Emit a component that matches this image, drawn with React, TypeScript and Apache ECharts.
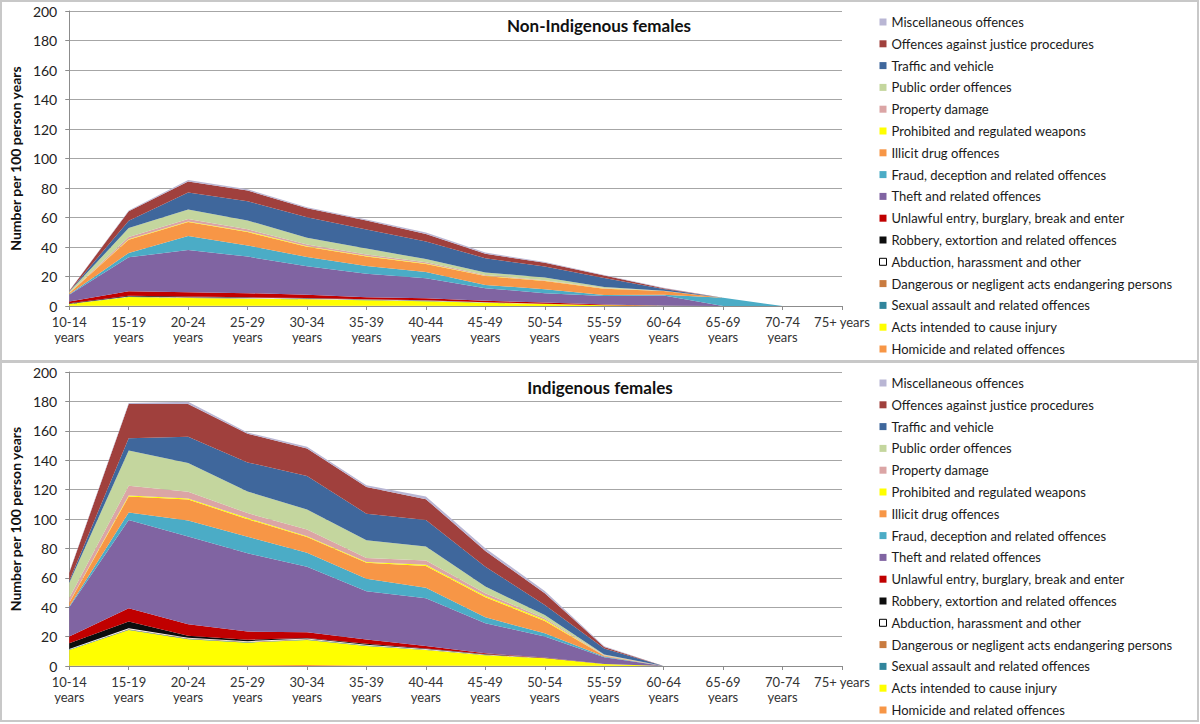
import React, { useEffect, useRef } from "react";
import * as echarts from "echarts";

const categories = [
  "10-14 years", "15-19 years", "20-24 years", "25-29 years", "30-34 years",
  "35-39 years", "40-44 years", "45-49 years", "50-54 years", "55-59 years",
  "60-64 years", "65-69 years", "70-74 years", "75+ years",
];
const yTicks = [0, 200, 20]; // min, max, interval

const offenceNames = [
  "Homicide and related offences",
  "Acts intended to cause injury",
  "Sexual assault and related offences",
  "Dangerous or negligent acts endangering persons",
  "Abduction, harassment and other",
  "Robbery, extortion and related offences",
  "Unlawful entry, burglary, break and enter",
  "Theft and related offences",
  "Fraud, deception and related offences",
  "Illicit drug offences",
  "Prohibited and regulated weapons",
  "Property damage",
  "Public order offences",
  "Traffic and vehicle",
  "Offences against justice procedures",
  "Miscellaneous offences",
];
const offenceColors = [
  "#F79646", "#FFFF00", "#31859C", "#C97B3F", "#FFFFFF", "#0D0D0D", "#C00000", "#8064A2",
  "#4BACC6", "#F79646", "#FFFF00", "#DBA5A5", "#C4D69E", "#3F679C", "#A0403D", "#B9B6D4",
];

// Non-Indigenous females
const niHomicide = [0.1, 0.1, 0.1, 0.1, 0.1, 0.1, 0.1, 0.05, 0, 0, 0, 0, 0, 0];
const niInjury = [1.2, 6.0, 5.3, 4.9, 4.4, 3.8, 3.2, 2.2, 1.3, 0.5, 0.1, 0, 0, 0];
const niSexual = [0.1, 0.1, 0.1, 0.1, 0.1, 0.1, 0.1, 0.05, 0.05, 0, 0, 0, 0, 0];
const niDangerous = [0.1, 0.1, 0.2, 0.2, 0.2, 0.2, 0.1, 0.1, 0.1, 0, 0, 0, 0, 0];
const niAbduction = [0.1, 0.2, 0.3, 0.3, 0.3, 0.2, 0.2, 0.1, 0.05, 0, 0, 0, 0, 0];
const niRobbery = [0.3, 0.5, 0.4, 0.3, 0.3, 0.2, 0.2, 0.1, 0.1, 0.05, 0, 0, 0, 0];
const niUnlawful = [1.2, 3.0, 3.0, 2.8, 2.3, 1.3, 1.3, 0.9, 0.7, 0.4, 0.1, 0, 0, 0];
const niTheft = [4.5, 23, 28.5, 24.8, 19.2, 16, 13.6, 8.6, 6.3, 5.8, 7, 0, 0, 0];
const niFraud = [0.3, 3, 9.5, 7.6, 6.3, 5.2, 4.2, 2.2, 2.7, 0.7, 0.5, 5.6, 0, 0];
const niDrug = [0.8, 9, 9.5, 9, 7, 6.5, 5.5, 6, 5.6, 4.3, 2.5, 0, 0, 0];
const niWeapons = [0.05, 0.3, 0.4, 0.4, 0.3, 0.3, 0.3, 0.2, 0.2, 0.1, 0, 0, 0, 0];
const niPropertyDamage = [0.3, 1.5, 1.6, 1.5, 1.2, 1, 0.8, 0.6, 0.4, 0.3, 0, 0, 0, 0];
const niPublicOrder = [0.6, 6, 6.5, 6, 4.5, 4, 2.2, 1.6, 1.9, 0.8, 0.2, 0, 0, 0];
const niTraffic = [0.2, 5, 11.5, 13, 14, 13, 12, 9.7, 7.3, 6, 1.2, 0, 0, 0];
const niJustice = [0.4, 6.5, 7.5, 7.3, 6, 6, 5, 3, 2.6, 1.7, 0.5, 0, 0, 0];
const niMisc = [0.1, 0.5, 1, 0.8, 0.8, 0.7, 1, 0.8, 0.5, 0.3, 0.2, 0, 0, 0];

// Indigenous females
const inHomicide = [0.2, 0.3, 0.5, 0.5, 0.6, 0.4, 0.3, 0.2, 0.2, 0.1, 0, 0, 0, 0];
const inInjury = [10.7, 24.2, 17.7, 15.4, 17.1, 13.2, 10.6, 7.1, 5.0, 1.2, 0, 0, 0, 0];
const inSexual = [0.3, 0.3, 0.3, 0.3, 0.3, 0.3, 0.2, 0.1, 0.1, 0, 0, 0, 0, 0];
const inDangerous = [0.1, 0.4, 0.3, 0.3, 0.3, 0.3, 0.2, 0.2, 0.1, 0, 0, 0, 0, 0];
const inAbduction = [0.2, 0.5, 0.4, 0.4, 0.4, 0.3, 0.3, 0.2, 0.1, 0, 0, 0, 0, 0];
const inRobbery = [4, 4.5, 1.3, 1.0, 0.4, 0.6, 0.3, 0.3, 0.1, 0, 0, 0, 0, 0];
const inUnlawful = [4.5, 9.1, 7.9, 5.5, 3.9, 2.9, 1.7, 0.5, 0.1, 0.1, 0, 0, 0, 0];
const inTheft = [20, 60.1, 59.7, 53.3, 44.5, 32.9, 32.5, 20.5, 14.3, 4.5, 0, 0, 0, 0];
const inFraud = [0.5, 5, 10.9, 11.3, 9.5, 8.4, 7.2, 4, 2.2, 0.5, 0, 0, 0, 0];
const inDrug = [2.5, 10.9, 14.3, 11.9, 10.7, 10.9, 14.8, 13.7, 8.4, 0.5, 0, 0, 0, 0];
const inWeapons = [0.2, 0.7, 0.7, 0.7, 0.6, 0.5, 0.7, 0.9, 0.8, 0.1, 0, 0, 0, 0];
const inPropertyDamage = [3, 6.6, 4.5, 3.4, 4.6, 2.7, 2.9, 1.8, 1.1, 0.3, 0, 0, 0, 0];
const inPublicOrder = [10.5, 24, 19.6, 14.7, 13.6, 12.1, 9.6, 4.5, 2.2, 0.6, 0, 0, 0, 0];
const inTraffic = [1.2, 8.4, 17.9, 19.8, 22.8, 18.1, 18.1, 13.6, 6.8, 4, 0, 0, 0, 0];
const inJustice = [5.5, 23.2, 22.2, 19.5, 18.6, 18.2, 14.1, 10.7, 8, 1, 0, 0, 0, 0];
const inMisc = [0.6, 0.7, 1.6, 0.9, 1.3, 1.1, 1.8, 1.8, 1.5, 0.6, 0, 0, 0, 0];

const nonIndigenousSeries = [
  niHomicide, niInjury, niSexual, niDangerous, niAbduction, niRobbery, niUnlawful, niTheft,
  niFraud, niDrug, niWeapons, niPropertyDamage, niPublicOrder, niTraffic, niJustice, niMisc,
];
const indigenousSeries = [
  inHomicide, inInjury, inSexual, inDangerous, inAbduction, inRobbery, inUnlawful, inTheft,
  inFraud, inDrug, inWeapons, inPropertyDamage, inPublicOrder, inTraffic, inJustice, inMisc,
];

const panelTitles = ["Non-Indigenous females", "Indigenous females"];
const yAxisTitle = "Number per 100 person years";

const FONT = "Lato, 'Open Sans', sans-serif";

export default function App() {
  const ref = useRef<HTMLDivElement>(null);

  useEffect(() => {
    if (!ref.current) return;
    const chart = echarts.init(ref.current, undefined, { renderer: "svg" });

    const grids = [
      { left: 56, top: 11, width: 786, height: 295 },
      { left: 56, top: 372, width: 786, height: 294 },
    ];

    const xAxes = grids.map((_, i) => ({
      type: "category",
      gridIndex: i,
      data: categories,
      boundaryGap: false,
      axisLine: { show: true, lineStyle: { color: "#8c8c8c", width: 1 } },
      axisTick: { show: true, length: 4, alignWithLabel: true, lineStyle: { color: "#8c8c8c" } },
      axisLabel: {
        interval: 0,
        fontFamily: FONT,
        fontSize: 13,
        lineHeight: 15,
        color: "#333",
        margin: 8,
        formatter: (v: string) => (v.startsWith("75+") ? v : v.replace(" ", "\n")),
      },
      splitLine: { show: false },
    }));

    const yAxes = grids.map((_, i) => ({
      type: "value",
      gridIndex: i,
      min: yTicks[0],
      max: yTicks[1],
      interval: yTicks[2],
      name: yAxisTitle,
      nameLocation: "middle",
      nameGap: 41,
      nameRotate: 90,
      nameTextStyle: { fontFamily: FONT, fontSize: 14, fontWeight: "bold", color: "#111" },
      axisLine: { show: true, lineStyle: { color: "#8c8c8c", width: 1 } },
      axisTick: { show: true, length: 4, lineStyle: { color: "#8c8c8c" } },
      axisLabel: { fontFamily: FONT, fontSize: 14, color: "#222", margin: 12 },
      splitLine: { show: true, lineStyle: { color: "#a6a6a6", width: 1 } },
    }));

    const makeSeries = (data: number[][], panel: number) =>
      data.map((vals, k) => ({
        name: offenceNames[k],
        type: "line",
        xAxisIndex: panel,
        yAxisIndex: panel,
        stack: "panel" + panel,
        data: vals,
        symbol: "none",
        smooth: false,
        silent: true,
        lineStyle: { width: 0, color: offenceColors[k] },
        itemStyle: { color: offenceColors[k] },
        areaStyle: { color: offenceColors[k], opacity: 1 },
        emphasis: { disabled: true },
      }));

    const legendData = offenceNames
      .map((n, k) =>
        n === "Abduction, harassment and other"
          ? { name: n, itemStyle: { color: "#FFFFFF", borderColor: "#000", borderWidth: 1 } }
          : { name: n, itemStyle: { color: offenceColors[k] } }
      )
      .reverse();

    const legends = [15, 376].map((top) => ({
      orient: "vertical",
      left: 879,
      top,
      padding: 0,
      icon: "rect",
      itemWidth: 7,
      itemHeight: 7,
      itemGap: 7.8,
      selectedMode: false,
      data: legendData,
      textStyle: { fontFamily: FONT, fontSize: 13, lineHeight: 14, color: "#1a1a1a" },
    }));

    chart.setOption({
      animation: false,
      backgroundColor: "#ffffff",
      grid: grids,
      xAxis: xAxes,
      yAxis: yAxes,
      legend: legends,
      series: [...makeSeries(nonIndigenousSeries, 0), ...makeSeries(indigenousSeries, 1)],
      graphic: [
        { type: "rect", shape: { x: 1, y: 1, width: 1197, height: 360 }, style: { fill: "none", stroke: "#c8c8c8", lineWidth: 2 }, silent: true, z: -1 },
        { type: "rect", shape: { x: 1, y: 362, width: 1197, height: 359 }, style: { fill: "none", stroke: "#c8c8c8", lineWidth: 2 }, silent: true, z: -1 },
        { type: "text", x: 599, y: 25, style: { text: panelTitles[0], textAlign: "center", textVerticalAlign: "middle", font: `bold 17px ${FONT}`, fill: "#111" } },
        { type: "text", x: 600, y: 387, style: { text: panelTitles[1], textAlign: "center", textVerticalAlign: "middle", font: `bold 17px ${FONT}`, fill: "#111" } },
      ],
    });

    return () => chart.dispose();
  }, []);

  return <div ref={ref} style={{ position: "fixed", left: 0, top: 0, width: 1200, height: 724 }} />;
}
